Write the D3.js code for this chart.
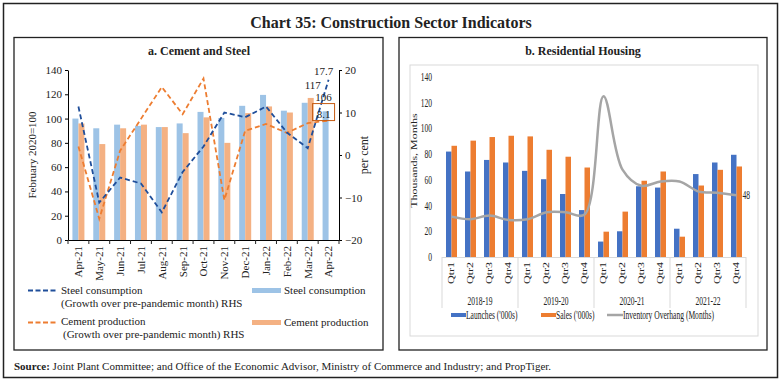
<!DOCTYPE html>
<html>
<head>
<meta charset="utf-8">
<script src="https://cdn.jsdelivr.net/npm/d3@7"></script>
<style>
  body { margin: 0; background: #fff; }
  svg text { font-family: "Liberation Serif", "Times New Roman", serif; fill: #222; }
</style>
</head>
<body>
<svg id="chart" width="781" height="384"></svg>
<script>

// ---- panel a : cement and steel ----
var months = ["Apr-21", "May-21", "Jun-21", "Jul-21", "Aug-21", "Sep-21", "Oct-21",
              "Nov-21", "Dec-21", "Jan-22", "Feb-22", "Mar-22", "Apr-22"];
var steelIndex   = [100, 92, 95, 94, 93, 96, 105.5, 100.5, 110.5, 119.5, 106.5, 113, 106];
var cementIndex  = [96, 79, 92, 95, 93, 88, 101, 80, 104.5, 110, 105, 117, null];
var steelGrowth  = [11.4, -11.2, -5.3, -6.7, -13.5, -4, 2, 10, 8.9, 11.4, 5.3, 1.6, 17.7];
var cementGrowth = [2, -15, 1, 8.5, 16, 9.6, 18, -10.6, 5.7, 7.3, 5.2, 7.5, 8.1];
var indexTicks  = [0, 20, 40, 60, 80, 100, 120, 140];
var growthTicks = [-20, -10, 0, 10, 20];

// ---- panel b : residential housing ----
var quarters    = ["Qtr1", "Qtr2", "Qtr3", "Qtr4"];
var fiscalYears = ["2018-19", "2019-20", "2020-21", "2021-22"];
var launches = [82, 66.5, 75.5, 73.5, 67, 60.5, 49, 36.5, 12, 20, 55, 54, 22, 64.5, 73.5, 79.5];
var sales    = [86.5, 90.5, 93.3, 94.3, 93.8, 83.4, 78, 69.6, 19.7, 35.3, 59.3, 66.5, 15.8, 55.6, 67.8, 70.4];
var overhang = [31.4, 29.4, 32.2, 28.8, 29.4, 34.8, 34.8, 33, 125, 68, 55.4, 58.7, 58.7, 51, 50, 48];
var housingTicks = [0, 20, 40, 60, 80, 100, 120, 140];

var svg = d3.select("#chart");

// frames
svg.append("rect").attr("x", 3.5).attr("y", 3.5).attr("width", 774).attr("height", 374)
    .attr("fill", "none").attr("stroke", "#222").attr("stroke-width", 1.5);
svg.append("rect").attr("x", 14).attr("y", 37.5).attr("width", 369).attr("height", 312.5)
    .attr("fill", "none").attr("stroke", "#222").attr("stroke-width", 1.3);
svg.append("rect").attr("x", 399).attr("y", 37.5).attr("width", 368).attr("height", 312.5)
    .attr("fill", "none").attr("stroke", "#222").attr("stroke-width", 1.3);

svg.append("text").attr("x", 391).attr("y", 28).attr("text-anchor", "middle")
    .attr("font-size", 16).attr("font-weight", "bold")
    .text("Chart 35: Construction Sector Indicators");

var src = svg.append("text").attr("x", 14).attr("y", 370).attr("font-size", 11);
src.append("tspan").attr("font-weight", "bold").text("Source:");
src.append("tspan").text(" Joint Plant Committee; and Office of the Economic Advisor, Ministry of Commerce and Industry; and PropTiger.");

// ================= panel a =================
var gA = svg.append("g");
gA.append("text").attr("x", 199).attr("y", 55).attr("text-anchor", "middle")
    .attr("font-size", 12).attr("font-weight", "bold").text("a. Cement and Steel");

var xA  = d3.scaleBand().domain(months).range([68, 339]);
var yA  = d3.scaleLinear().domain([0, 140]).range([240, 70]);
var yA2 = d3.scaleLinear().domain([-20, 20]).range([240, 70]);
var barW = 6;
var mid = function(m) { return xA(m) + xA.bandwidth() / 2; };

gA.selectAll("rect.steel").data(months).enter().append("rect")
    .attr("class", "steel")
    .attr("x", function(m) { return mid(m) - barW; })
    .attr("y", function(m, i) { return yA(steelIndex[i]); })
    .attr("width", barW)
    .attr("height", function(m, i) { return yA(0) - yA(steelIndex[i]); })
    .attr("fill", "#9DC3E6");

gA.selectAll("rect.cement").data(months.filter(function(m, i) { return cementIndex[i] != null; }))
    .enter().append("rect")
    .attr("class", "cement")
    .attr("x", function(m) { return mid(m); })
    .attr("y", function(m) { return yA(cementIndex[months.indexOf(m)]); })
    .attr("width", barW)
    .attr("height", function(m) { return yA(0) - yA(cementIndex[months.indexOf(m)]); })
    .attr("fill", "#F4B183");

// axes
var axL = gA.append("g").attr("transform", "translate(68,0)")
    .call(d3.axisLeft(yA).tickValues(indexTicks).tickSize(3).tickSizeOuter(0));
var axR = gA.append("g").attr("transform", "translate(339,0)")
    .call(d3.axisRight(yA2).tickValues(growthTicks).tickSize(3).tickSizeOuter(0));
[axL, axR].forEach(function(ax) {
    ax.attr("font-family", null).attr("font-size", 11);
    ax.selectAll("text").attr("fill", "#222");
});

var axB = gA.append("g").attr("transform", "translate(0,240)")
    .call(d3.axisBottom(xA).tickSize(0).tickSizeOuter(0));
axB.attr("font-family", null).attr("font-size", 11);
axB.selectAll("text")
    .attr("fill", "#222")
    .attr("y", 0).attr("x", -6).attr("dy", "0.35em")
    .attr("transform", "rotate(-90)")
    .attr("text-anchor", "end");
// tick marks between categories
gA.selectAll("line.xtick").data(months.concat(["end"])).enter().append("line")
    .attr("x1", function(m) { return m == "end" ? xA.range()[1] : xA(m); })
    .attr("x2", function(m) { return m == "end" ? xA.range()[1] : xA(m); })
    .attr("y1", 240).attr("y2", 244)
    .attr("stroke", "#222");

gA.append("text").attr("transform", "translate(36,155) rotate(-90)")
    .attr("text-anchor", "middle").attr("font-size", 11).text("February 2020=100");
gA.append("text").attr("transform", "translate(368,155) rotate(-90)")
    .attr("text-anchor", "middle").attr("font-size", 12).text("per cent");

// growth lines (RHS)
var lineA = function(vals) {
    return d3.line().x(function(d, i) { return mid(months[i]); })
        .y(function(d) { return yA2(d); })(vals);
};
gA.append("path").attr("d", lineA(cementGrowth)).attr("fill", "none")
    .attr("stroke", "#ED7D31").attr("stroke-width", 1.8).attr("stroke-dasharray", "5,3");
gA.append("path").attr("d", lineA(steelGrowth)).attr("fill", "none")
    .attr("stroke", "#1F4E9A").attr("stroke-width", 1.8).attr("stroke-dasharray", "5,3");

// data labels at the latest month
var lastM = months[months.length - 1];
var lx = mid(lastM) - 5;
gA.append("text").attr("x", lx).attr("y", yA2(steelGrowth[12]) - 5).attr("text-anchor", "middle")
    .attr("font-size", 11).text(steelGrowth[12].toFixed(1));
gA.append("text").attr("x", mid(months[11]) + 5).attr("y", yA(cementIndex[11]) - 9).attr("text-anchor", "middle")
    .attr("font-size", 11).text(cementIndex[11]);
gA.append("text").attr("x", lx).attr("y", yA(steelIndex[12]) - 10).attr("text-anchor", "middle")
    .attr("font-size", 11).text(steelIndex[12]);
gA.append("rect").attr("x", lx - 11).attr("y", yA2(cementGrowth[12]) - 17)
    .attr("width", 22).attr("height", 17)
    .attr("fill", "none").attr("stroke", "#C55A11").attr("stroke-width", 1);
gA.append("text").attr("x", lx).attr("y", yA2(cementGrowth[12]) - 3).attr("text-anchor", "middle")
    .attr("font-size", 11).text(cementGrowth[12].toFixed(1));

// legend a
var legA = gA.append("g").attr("font-size", 11);
legA.append("line").attr("x1", 28).attr("x2", 57).attr("y1", 290.5).attr("y2", 290.5)
    .attr("stroke", "#1F4E9A").attr("stroke-width", 2).attr("stroke-dasharray", "5,2.5");
legA.append("text").attr("x", 61).attr("y", 294).text("Steel consumption");
legA.append("text").attr("x", 61).attr("y", 306.5).text("(Growth over pre-pandemic month) RHS");
legA.append("line").attr("x1", 28).attr("x2", 57).attr("y1", 322.5).attr("y2", 322.5)
    .attr("stroke", "#ED7D31").attr("stroke-width", 2).attr("stroke-dasharray", "5,2.5");
legA.append("text").attr("x", 61).attr("y", 325).text("Cement production");
legA.append("text").attr("x", 63).attr("y", 338).text("(Growth over pre-pandemic month) RHS");
legA.append("rect").attr("x", 252).attr("y", 288).attr("width", 29).attr("height", 5).attr("fill", "#9DC3E6");
legA.append("text").attr("x", 284).attr("y", 294).text("Steel consumption");
legA.append("rect").attr("x", 252).attr("y", 320).attr("width", 29).attr("height", 5).attr("fill", "#F4B183");
legA.append("text").attr("x", 284).attr("y", 326).text("Cement production");

// ================= panel b =================
var SQ = 0.63; // horizontal squeeze of the narrow excel font
var gB = svg.append("g");
gB.append("text").attr("x", 583).attr("y", 55).attr("text-anchor", "middle")
    .attr("font-size", 12).attr("font-weight", "bold").text("b. Residential Housing");
gB.append("rect").attr("x", 410).attr("y", 65).attr("width", 348).attr("height", 271)
    .attr("fill", "none").attr("stroke", "#D9D9D9").attr("stroke-width", 1);

var squeezed = function(g, x, y, str, anchor) {
    return g.append("text")
        .attr("transform", "translate(" + x + "," + y + ") scale(" + SQ + ",1)")
        .attr("text-anchor", anchor || "start")
        .attr("font-size", 12)
        .text(str);
};

var idx = d3.range(quarters.length * fiscalYears.length);
var xB = d3.scaleBand().domain(idx).range([442, 746]);
var yB = d3.scaleLinear().domain([0, 140]).range([257, 77]);
var bw = 5.5;
var midB = function(i) { return xB(i) + xB.bandwidth() / 2; };

gB.selectAll("rect.launch").data(launches).enter().append("rect")
    .attr("x", function(d, i) { return midB(i) - bw; })
    .attr("y", function(d) { return yB(d); })
    .attr("width", bw)
    .attr("height", function(d) { return yB(0) - yB(d); })
    .attr("fill", "#4472C4");
gB.selectAll("rect.sale").data(sales).enter().append("rect")
    .attr("x", function(d, i) { return midB(i); })
    .attr("y", function(d) { return yB(d); })
    .attr("width", bw)
    .attr("height", function(d) { return yB(0) - yB(d); })
    .attr("fill", "#ED7D31");

gB.append("path")
    .attr("d", d3.line().curve(d3.curveCatmullRom.alpha(0.5))
        .x(function(d, i) { return midB(i); })
        .y(function(d) { return yB(d); })(overhang))
    .attr("fill", "none").attr("stroke", "#A5A5A5").attr("stroke-width", 2.5);
squeezed(gB, midB(15) + 6, yB(overhang[15]) + 4, String(overhang[15]));

// y ticks
housingTicks.forEach(function(t) {
    squeezed(gB, 432, yB(t) + 4, String(t), "end");
});
gB.append("text")
    .attr("transform", "translate(417," + yB(75) + ") rotate(-90) scale(1," + SQ + ")")
    .attr("text-anchor", "middle").attr("font-size", 12).text("Thousands, Months");

// category axis
gB.append("line").attr("x1", 442).attr("x2", 746).attr("y1", 257.5).attr("y2", 257.5)
    .attr("stroke", "#D9D9D9");
var groupStep = xB.step() * quarters.length;
d3.range(fiscalYears.length + 1).forEach(function(k) {
    var gx = 442 + k * groupStep;
    gB.append("line").attr("x1", gx).attr("x2", gx).attr("y1", 257).attr("y2", 308)
        .attr("stroke", "#D9D9D9");
});
idx.forEach(function(i) {
    gB.append("text")
        .attr("transform", "translate(" + midB(i) + ",262) rotate(-90) scale(1," + SQ + ")")
        .attr("text-anchor", "end").attr("dy", "0.35em").attr("font-size", 12)
        .text(quarters[i % 4]);
});
fiscalYears.forEach(function(y, k) {
    squeezed(gB, 442 + (k + 0.5) * groupStep, 305, y, "middle");
});

// legend b
gB.append("rect").attr("x", 451).attr("y", 313).attr("width", 15).attr("height", 4).attr("fill", "#4472C4");
squeezed(gB, 466, 319, "Launches ('000s)");
gB.append("rect").attr("x", 541).attr("y", 313).attr("width", 15).attr("height", 4).attr("fill", "#ED7D31");
squeezed(gB, 556, 319, "Sales ('000s)");
gB.append("line").attr("x1", 607).attr("x2", 623).attr("y1", 315).attr("y2", 315)
    .attr("stroke", "#A5A5A5").attr("stroke-width", 2.5);
squeezed(gB, 623, 319, "Inventory Overhang (Months)");

</script>
</body>
</html>
